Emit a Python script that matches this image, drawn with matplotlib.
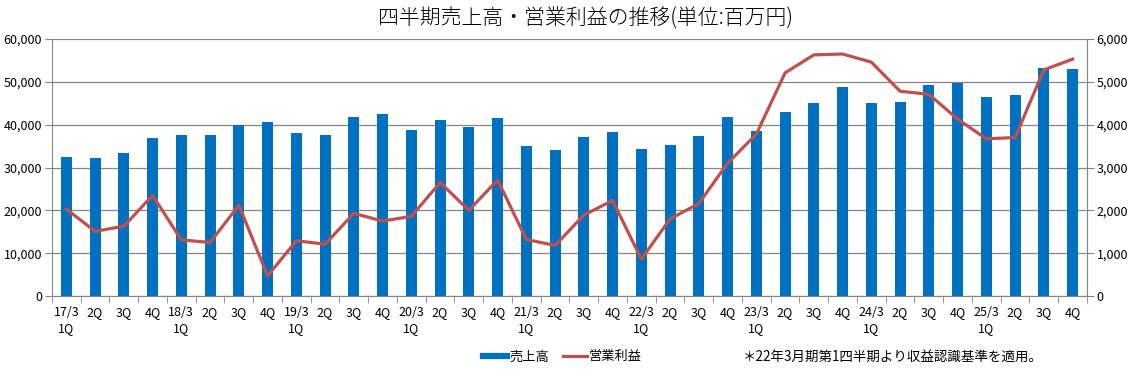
import numpy as np
import matplotlib.pyplot as plt
from matplotlib.lines import Line2D
from matplotlib.ticker import FuncFormatter

plt.rcParams['font.family'] = ['Noto Sans CJK JP', 'DejaVu Sans']

# data
years = [17, 18, 19, 20, 21, 22, 23, 24, 25]
quarters = ["1Q", "2Q", "3Q", "4Q"]
sales = [32500, 32300, 33400, 36900, 37600, 37600, 39900, 40600,
         38100, 37600, 41800, 42500, 38800, 41100, 39500, 41500,
         35000, 34100, 37100, 38300, 34300, 35300, 37400, 41800,
         38500, 43000, 45100, 48800, 45100, 45300, 49300, 49800,
         46500, 46900, 53200, 53000]
op_profit = [2030, 1510, 1630, 2350, 1310, 1250, 2120, 470,
             1290, 1210, 1930, 1750, 1860, 2650, 2000, 2710,
             1320, 1180, 1890, 2230, 860, 1800, 2160, 3100,
             3780, 5210, 5630, 5650, 5460, 4780, 4710, 4130,
             3670, 3700, 5280, 5530]

labels = []
for yy in years:
    for q in quarters:
        if q == "1Q":
            labels.append("%d/3\n1Q" % yy)
        else:
            labels.append(q)

blue = "#0070C0"
red = "#C0504D"
grid_c = "#868686"

fig = plt.figure(figsize=(11.37, 3.73), dpi=100)
ax = fig.add_axes([0.0457, 0.2064, 0.9103, 0.689])
x = np.arange(len(sales))

ax.bar(x, sales, width=0.38, color=blue, zorder=2)
ax.set_xlim(-0.5, len(sales) - 0.5)
ax.set_ylim(0, 60000)
ax.set_yticks(np.arange(0, 60001, 10000))
ax.yaxis.set_major_formatter(FuncFormatter(lambda v, p: "{:,.0f}".format(v)))
ax.grid(axis="y", color=grid_c, lw=0.9)
ax.set_axisbelow(True)

ax.set_xticks(x)
ax.set_xticklabels(labels, fontsize=9, linespacing=1.35, va="top")
ax.tick_params(axis="x", length=0, pad=7)
ax.set_xticks(np.arange(-0.5, len(sales), 1), minor=True)
ax.tick_params(axis="x", which="minor", length=5, color=grid_c)
ax.tick_params(axis="y", length=5, color=grid_c, labelsize=9, pad=2)

ax.spines["top"].set_visible(False)
for s in ["left", "bottom", "right"]:
    ax.spines[s].set_color(grid_c)

ax2 = ax.twinx()
ax2.plot(x, op_profit, color=red, lw=2.3, solid_joinstyle="round", zorder=3)
ax2.set_ylim(0, 6000)
ax2.set_yticks(np.arange(0, 6001, 1000))
ax2.yaxis.set_major_formatter(FuncFormatter(lambda v, p: "{:,.0f}".format(v)))
ax2.tick_params(axis="y", length=5, color=grid_c, labelsize=9, pad=2)
ax2.spines["top"].set_visible(False)
ax2.spines["right"].set_color(grid_c)
ax2.spines["left"].set_visible(False)
ax2.spines["bottom"].set_visible(False)

fig.text(0.515, 0.950, "四半期売上高・営業利益の推移(単位:百万円)",
         ha="center", va="center", fontsize=15, fontweight="light")

handles = [Line2D([], [], color=blue, lw=4.5),
           Line2D([], [], color=red, lw=2.3)]
fig.legend(handles, ["売上高", "営業利益"], loc="center", ncol=2,
           bbox_to_anchor=(0.495, 0.043), frameon=False, fontsize=9.5,
           handlelength=1.8, handletextpad=0.2, columnspacing=1.0)

fig.text(0.653, 0.043, "＊22年3月期第1四半期より収益認識基準を適用。",
         ha="left", va="center", fontsize=9.7)

fig.savefig("out.png", dpi=100)
